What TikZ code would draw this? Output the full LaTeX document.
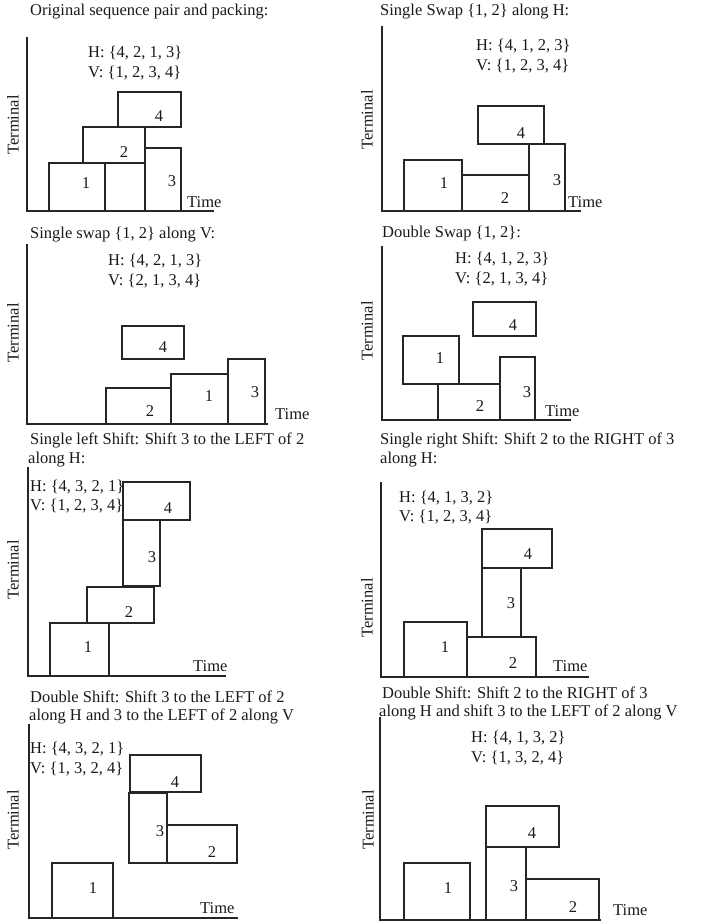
\documentclass[tikz,border=0pt]{standalone}
\usepackage{fontspec}
\setmainfont{Liberation Serif}
\begin{document}
\begin{tikzpicture}[x=1pt,y=-1pt,
  ax/.style={line width=1.6pt, draw=black!85, line cap=rect},
  bx/.style={line width=1.1pt, draw=black!85},
  txt/.style={inner sep=0pt, font=\fontsize{16.5}{19}\selectfont, text=black!90},
  lt/.style={txt, anchor=west},
  term/.style={txt, rotate=90}]
\useasboundingbox (0,0) rectangle (705,924);
\newcommand\blk[8]{\draw[bx] (#2,#3) rectangle (#4,#5); \node[txt] (#1) at (#7,#8) {#6};}
\newcommand\axes[4]{\draw[ax] (#1,#2) -- (#1,#3) -- (#4,#3);}

% Panel 1
\node[lt] (t1) at (30,12) {Original sequence pair and packing:};
\axes{27}{38}{211}{213}
\node[lt] (h1) at (88,53) {H: \{4, 2, 1, 3\}};
\node[lt] (v1) at (88,73) {V: \{1, 2, 3, 4\}};
\blk{p1b4}{118}{92}{181}{127}{4}{159}{116}
\blk{p1b2}{83}{127}{145}{163}{2}{124}{152}
\blk{p1b1}{49}{163}{105}{211}{1}{86}{183}
\draw[bx] (105,163) rectangle (145,211);
\blk{p1b3}{145}{148}{181}{211}{3}{172}{181}
\node[lt] (time1) at (187,202) {Time};
\node[term] (term1) at (13,125) {Terminal};

% Panel 2
\node[lt] (t2) at (380,12) {Single Swap \{1, 2\} along H:};
\axes{382}{27}{211}{580}
\node[lt] (h2) at (476,46) {H: \{4, 1, 2, 3\}};
\node[lt] (v2) at (476,66) {V: \{1, 2, 3, 4\}};
\blk{p2b4}{478}{106}{544}{144}{4}{521}{133}
\blk{p2b1}{404}{160}{462}{211}{1}{444}{183}
\blk{p2b2}{462}{175}{529}{211}{2}{505}{198}
\blk{p2b3}{529}{144}{565}{211}{3}{557}{180}
\node[lt] (time2) at (568,202) {Time};
\node[term] (term2) at (367,120) {Terminal};

% Panel 3
\node[lt] (t3) at (30,235) {Single swap \{1, 2\} along V:};
\axes{27}{245}{424}{267}
\node[lt] (h3) at (108,261) {H: \{4, 2, 1, 3\}};
\node[lt] (v3) at (108,281) {V: \{2, 1, 3, 4\}};
\blk{p3b4}{122}{326}{184}{359}{4}{163}{347}
\blk{p3b2}{106}{388}{171}{424}{2}{150}{411}
\blk{p3b1}{171}{374}{228}{424}{1}{209}{396}
\blk{p3b3}{228}{359}{265}{424}{3}{255}{392}
\node[lt] (time3) at (275,414) {Time};
\node[term] (term3) at (13,333) {Terminal};

% Panel 4
\node[lt] (t4) at (382,234) {Double Swap \{1, 2\}:};
\axes{382}{247}{420}{570}
\node[lt] (h4) at (455,259) {H: \{4, 1, 2, 3\}};
\node[lt] (v4) at (455,279) {V: \{2, 1, 3, 4\}};
\blk{p4b4}{473}{302}{536}{336}{4}{513}{325}
\blk{p4b1}{403}{336}{459}{384}{1}{440}{358}
\blk{p4b2}{438}{384}{500}{420}{2}{480}{406}
\blk{p4b3}{500}{357}{535}{420}{3}{527}{392}
\node[lt] (time4) at (545,411) {Time};
\node[term] (term4) at (367,331) {Terminal};

% Panel 5
\node[lt] (t5a) at (30,440) {Single left Shift: Shift 3 to the LEFT of 2};
\node[lt] (t5b) at (28,460) {along H:};
\axes{28}{468}{676}{225}
\node[lt] (h5) at (30,487) {H: \{4, 3, 2, 1\}};
\node[lt] (v5) at (30,506) {V: \{1, 2, 3, 4\}};
\blk{p5b4}{123}{482}{190}{520}{4}{168}{508}
\blk{p5b3}{123}{520}{160}{586}{3}{152}{557}
\blk{p5b2}{87}{587}{154}{623}{2}{129}{612}
\blk{p5b1}{50}{623}{109}{676}{1}{88}{647}
\node[lt] (time5) at (193,666) {Time};
\node[term] (term5) at (13,570) {Terminal};

% Panel 6
\node[lt] (t6a) at (380,440) {Single right Shift: Shift 2 to the RIGHT of 3};
\node[lt] (t6b) at (380,460) {along H:};
\axes{381}{483}{677}{588}
\node[lt] (h6) at (399,498) {H: \{4, 1, 3, 2\}};
\node[lt] (v6) at (399,517) {V: \{1, 2, 3, 4\}};
\blk{p6b4}{482}{529}{552}{568}{4}{528}{554}
\blk{p6b3}{482}{568}{521}{637}{3}{511}{603}
\blk{p6b1}{404}{622}{467}{677}{1}{445}{647}
\blk{p6b2}{467}{637}{536}{677}{2}{513}{663}
\node[lt] (time6) at (553,666) {Time};
\node[term] (term6) at (367,608) {Terminal};

% Panel 7
\node[lt] (t7a) at (30,697) {Double Shift: Shift 3 to the LEFT of 2};
\node[lt] (t7b) at (29,716) {along H and 3 to the LEFT of 2 along V};
\axes{29}{725}{918}{237}
\node[lt] (h7) at (30,749) {H: \{4, 3, 2, 1\}};
\node[lt] (v7) at (30,769) {V: \{1, 3, 2, 4\}};
\blk{p7b4}{130}{755}{201}{792}{4}{175}{782}
\blk{p7b3}{129}{793}{167}{863}{3}{160}{831}
\blk{p7b2}{167}{825}{237}{863}{2}{212}{852}
\blk{p7b1}{52}{863}{113}{918}{1}{93}{888}
\node[lt] (time7) at (200,908) {Time};
\node[term] (term7) at (13,820) {Terminal};

% Panel 8
\node[lt] (t8a) at (382,693) {Double Shift: Shift 2 to the RIGHT of 3};
\node[lt] (t8b) at (379,712) {along H and shift 3 to the LEFT of 2 along V};
\axes{380}{718}{920}{600}
\node[lt] (h8) at (471,738) {H: \{4, 1, 3, 2\}};
\node[lt] (v8) at (471,758) {V: \{1, 3, 2, 4\}};
\blk{p8b4}{486}{806}{559}{847}{4}{532}{833}
\blk{p8b3}{486}{847}{526}{920}{3}{514}{886}
\blk{p8b2}{526}{879}{599}{920}{2}{573}{907}
\blk{p8b1}{404}{863}{470}{920}{1}{448}{888}
\node[lt] (time8) at (613,910) {Time};
\node[term] (term8) at (368,820) {Terminal};
\end{tikzpicture}
\end{document}
